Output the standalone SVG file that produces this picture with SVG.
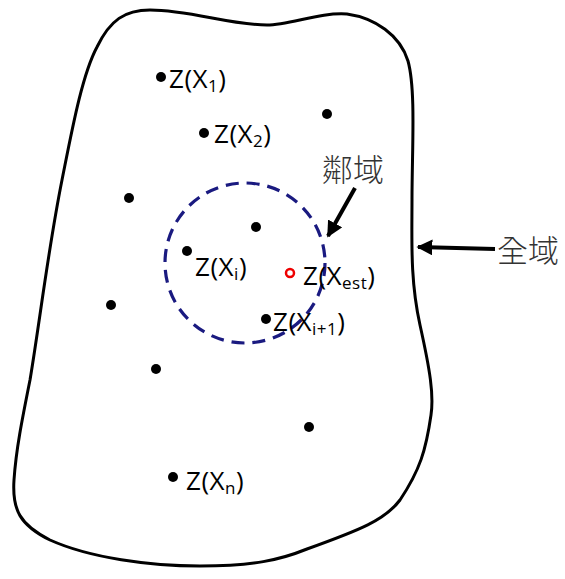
<svg xmlns="http://www.w3.org/2000/svg" width="565" height="579" viewBox="0 0 565 579">
<style>
.lbl{font-family:"Open Sans","Liberation Sans",sans-serif;font-size:26px;fill:#000;letter-spacing:0.5px}
.sub{font-size:17px}
.cjk{font-family:"Noto Sans CJK TC","Noto Sans CJK SC",sans-serif;font-size:31px;fill:#333;font-weight:300}
.dot{fill:#000}
.arr{stroke:#000;stroke-width:4;fill:none}
</style>
<defs>
<marker id="ah" viewBox="0 0 10 10" refX="9" refY="5" markerWidth="4" markerHeight="4" orient="auto-start-reverse" markerUnits="strokeWidth">
<path d="M0,0 L10,5 L0,10 z" fill="#000"/>
</marker>
</defs>
<rect width="565" height="579" fill="#fff"/>
<g id="global-domain">
<path d="M97,47 C110,20 125,10 150,10 C190,10 230,25 267,25 C290,25 320,12 347,14 C375,18 400,35 408,61 C416,90 412,150 412,199 C412,240 410,280 420,325 C430,370 434,395 431,415 C426,450 420,470 400,500 C385,520 360,530 307,549 C280,560 253,566 200,566 C150,566 90,558 50,540 C20,525 12,510 14,480 C16,450 22,420 30,380 C40,320 48,250 62,180 C72,130 82,75 97,47 Z" fill="none" stroke="#000" stroke-width="3"/>
</g>
<g id="neighborhood">
<circle cx="245" cy="263" r="80" fill="none" stroke="#1a1a80" stroke-width="3.2" stroke-dasharray="13,8"/>
</g>
<g id="p1"><circle class="dot" cx="161" cy="77" r="5"/><text class="lbl" x="169" y="88">Z(X<tspan class="sub" dy="4">1</tspan><tspan dy="-4">)</tspan></text></g>
<g id="p2"><circle class="dot" cx="204" cy="133" r="5"/><text class="lbl" x="214" y="143">Z(X<tspan class="sub" dy="4">2</tspan><tspan dy="-4">)</tspan></text></g>
<g id="p3"><circle class="dot" cx="327" cy="114" r="5"/></g>
<g id="p4"><circle class="dot" cx="129" cy="198" r="5"/></g>
<g id="p5"><circle class="dot" cx="256" cy="227" r="5"/></g>
<g id="pi"><circle class="dot" cx="187" cy="251" r="5"/><text class="lbl" x="195" y="276">Z(X<tspan class="sub" dy="4">i</tspan><tspan dy="-4">)</tspan></text></g>
<g id="pest"><circle cx="290" cy="273" r="4" fill="none" stroke="#e00" stroke-width="2.5"/><text class="lbl" x="303" y="285">Z(X<tspan class="sub" dy="4">est</tspan><tspan dy="-4">)</tspan></text></g>
<g id="pi1"><circle class="dot" cx="266" cy="319" r="5"/><text class="lbl" x="273" y="331">Z(X<tspan class="sub" dy="4">i+1</tspan><tspan dy="-4">)</tspan></text></g>
<g id="p6"><circle class="dot" cx="111" cy="305" r="5"/></g>
<g id="p7"><circle class="dot" cx="156" cy="369" r="5"/></g>
<g id="p8"><circle class="dot" cx="309" cy="427" r="5"/></g>
<g id="pn"><circle class="dot" cx="173" cy="477" r="5"/><text class="lbl" x="186" y="490">Z(X<tspan class="sub" dy="4">n</tspan><tspan dy="-4">)</tspan></text></g>
<g id="label-neighborhood"><text class="cjk" x="322" y="181">鄰域</text></g>
<g id="label-global"><text class="cjk" x="497" y="262">全域</text></g>
<g id="connectors">
<line class="arr" x1="355" y1="188" x2="328" y2="236" marker-end="url(#ah)"/>
<line class="arr" x1="495" y1="249" x2="418" y2="247" marker-end="url(#ah)"/>
</g>
</svg>
